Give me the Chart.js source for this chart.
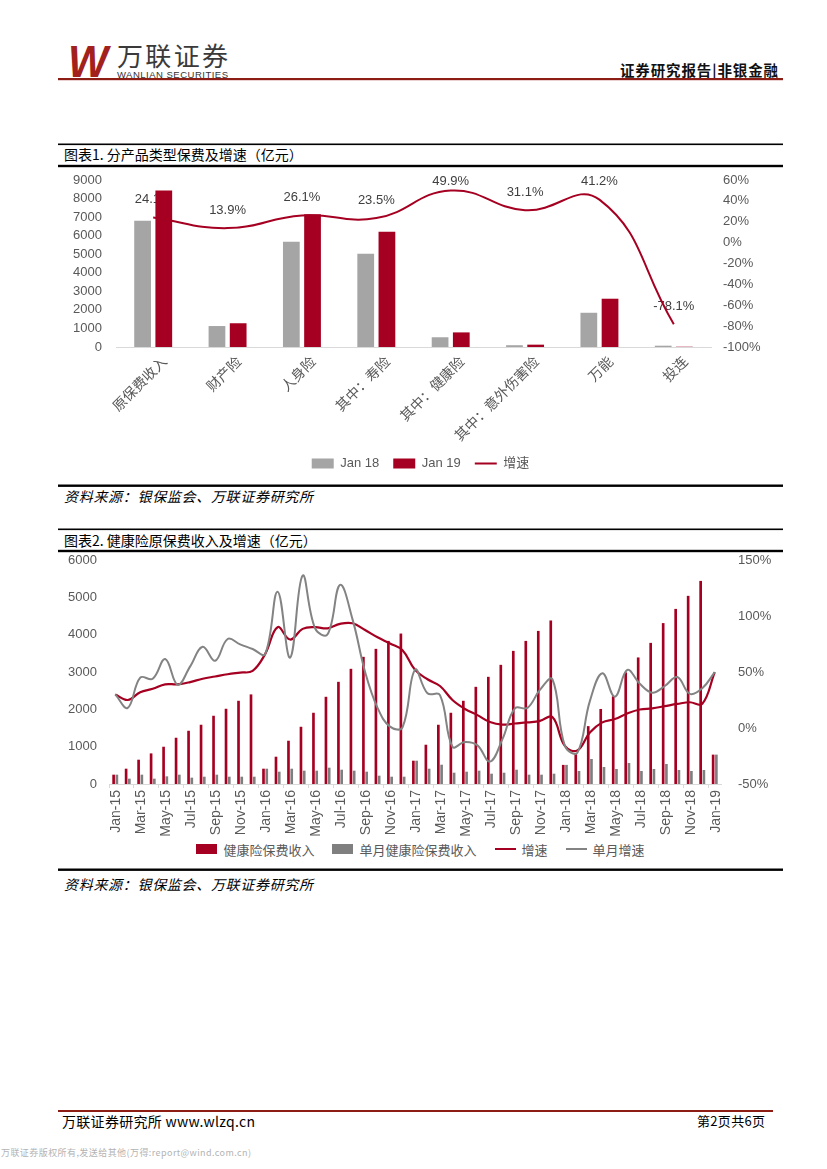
<!DOCTYPE html>
<html><head><meta charset="utf-8">
<script src="https://cdn.jsdelivr.net/npm/chart.js@4.4.1/dist/chart.umd.min.js"></script>
<style>
html,body{margin:0;padding:0;background:#fff;}
#page{position:relative;width:827px;height:1169px;overflow:hidden;background:#fff;}
#deco{position:absolute;left:0;top:0;}
.cwrap{position:absolute;}
#lg2{position:absolute;left:58px;width:725px;top:841px;height:16px;display:flex;justify-content:center;align-items:center;gap:18px;
 font-family:"Liberation Sans","Noto Sans CJK SC",sans-serif;font-size:13px;color:#595959;white-space:nowrap;}
#lg2 .it{display:flex;align-items:center;}
#lg2 .bx{display:inline-block;width:21px;margin-right:6px;}
</style></head><body>
<div id="page">
<svg id="deco" width="827" height="1169" xmlns="http://www.w3.org/2000/svg">
 <text x="68" y="77" font-family="Liberation Sans" font-weight="bold" font-style="italic" font-size="44" fill="#a3211c" textLength="40" lengthAdjust="spacingAndGlyphs">W</text>
 <text x="117" y="66" font-family="Noto Sans CJK SC" font-size="26" fill="#3a3a3a" textLength="111">万联证券</text>
 <text x="117" y="77.5" font-family="Liberation Sans" font-size="9.5" fill="#333" textLength="111">WANLIAN SECURITIES</text>
 <text x="620" y="76" font-family="Noto Sans CJK SC" font-size="14.5" font-weight="bold" fill="#111" textLength="158">证券研究报告|非银金融</text>
 <rect x="58" y="78" width="725" height="2.2" fill="#8b1d15"/>

 <rect x="58" y="143.5" width="725" height="1.6" fill="#000"/>
 <text x="64" y="160" font-family="Noto Sans CJK SC" font-size="14" fill="#000">图表1. 分产品类型保费及增速（亿元）</text>
 <rect x="58" y="164.8" width="725" height="2.4" fill="#000"/>
 <rect x="58" y="484.5" width="725" height="2.4" fill="#000"/>
 <text x="64" y="502" font-family="Noto Sans CJK SC" font-size="14" font-style="italic" fill="#000" textLength="249">资料来源：银保监会、万联证券研究所</text>

 <rect x="58" y="528.5" width="725" height="1.6" fill="#000"/>
 <text x="64" y="546" font-family="Noto Sans CJK SC" font-size="14" fill="#000">图表2. 健康险原保费收入及增速（亿元）</text>
 <rect x="58" y="549.8" width="725" height="2.4" fill="#000"/>
 <rect x="58" y="868.5" width="725" height="2.4" fill="#000"/>
 <text x="64" y="890" font-family="Noto Sans CJK SC" font-size="14" font-style="italic" fill="#000" textLength="249">资料来源：银保监会、万联证券研究所</text>

 <rect x="58" y="1110" width="715" height="2" fill="#8b1d15"/>
 <text x="62" y="1127" font-family="Noto Sans CJK SC" font-size="14" fill="#000" textLength="193">万联证券研究所 www.wlzq.cn</text>
 <text x="697" y="1126" font-family="Noto Sans CJK SC" font-size="13" fill="#000" textLength="68">第2页共6页</text>
 <text x="1" y="1156" font-family="Noto Sans CJK SC" font-size="9" fill="#b3b3b3" textLength="250">万联证券版权所有,发送给其他(万得:report@wind.com.cn)</text>
</svg>
<div class="cwrap" style="left:58px;top:168px;width:725px;height:312px;"><canvas id="c1"></canvas></div>
<div class="cwrap" style="left:58px;top:552px;width:725px;height:286px;"><canvas id="c2"></canvas></div>
<div id="lg2"></div>
</div>
<script>
// ---------- Chart 1 data ----------
const cats1 = ['原保费收入','财产险','人身险','其中：寿险','其中：健康险','其中：意外伤害险','万能','投连'];
const jan18 = [6800, 1130, 5670, 5030, 525, 96, 1845, 70];
const jan19 = [8437, 1280, 7150, 6212, 787, 126, 2602, 15];
const growth1 = [24.1, 13.9, 26.1, 23.5, 49.9, 31.1, 41.2, -78.1];

// ---------- Chart 2 data ----------
const months = ['Jan-15','Feb-15','Mar-15','Apr-15','May-15','Jun-15','Jul-15','Aug-15','Sep-15','Oct-15','Nov-15','Dec-15',
 'Jan-16','Feb-16','Mar-16','Apr-16','May-16','Jun-16','Jul-16','Aug-16','Sep-16','Oct-16','Nov-16','Dec-16',
 'Jan-17','Feb-17','Mar-17','Apr-17','May-17','Jun-17','Jul-17','Aug-17','Sep-17','Oct-17','Nov-17','Dec-17',
 'Jan-18','Feb-18','Mar-18','Apr-18','May-18','Jun-18','Jul-18','Aug-18','Sep-18','Oct-18','Nov-18','Dec-18',
 'Jan-19'];
const cumPrem = [250,410,651,820,998,1239,1426,1587,1828,2015,2229,2400,
 410,731,1159,1533,1908,2336,2737,3085,3406,3620,3833,4030,
 624,1052,1587,1908,2229,2603,2871,3192,3566,3833,4101,4380,
 512,800,1550,2010,2350,2990,3390,3780,4310,4690,5040,5440,
 787];
const monthPrem = [250,143,250,143,205,250,170,196,250,196,196,196,
 410,330,410,357,357,437,383,357,330,223,196,196,
 624,410,517,303,330,357,276,303,383,250,250,276,
 512,348,670,455,402,563,348,402,536,375,348,375,
 787];
const cumGrowth = [30,25,32,35,39,39,41,44,46,48,49.5,51,
 66,90,79,88.5,90,89,93,93.5,87.5,81,75.5,69.5,
 52,43.5,37.5,25,17,11.5,5.3,3,4,5,6.3,9.8,
 -16,-20,-4,5,8,13,16.5,17.5,19.5,21.5,23,21.5,
 49.9];
const monthGrowth = [30,18,45,44,61.6,38.5,55,72.5,60,79.5,74.7,70.5,
 66,121.7,62.8,136,89,83.6,127.7,97,50.3,18,1.2,0.6,
 52,31,29.4,-16.7,-12.5,-15.5,-30,-10,17.6,18,34,43.5,
 -16,-22,24,48.8,28,51.8,39.5,31.5,37.5,45.5,30.5,35.4,
 49.9];

const RED = '#a50021', GRAY1 = '#a5a5a5', GRAY2 = '#7f7f7f', LGRAY = '#838383';
const FONT = '"Liberation Sans","Noto Sans CJK SC",sans-serif';
Chart.defaults.font.family = FONT;
Chart.defaults.color = '#595959';

function legendGen(chart){
  const items = Chart.defaults.plugins.legend.labels.generateLabels(chart);
  items.forEach(it=>{
    const ds = chart.data.datasets[it.datasetIndex];
    if (ds.type === 'line'){ it.pointStyle='line'; it.strokeStyle=ds.borderColor; it.lineWidth=2; }
    else { it.pointStyle='rect'; it.fillStyle=ds.backgroundColor; it.strokeStyle=ds.backgroundColor; it.lineWidth=0; }
  });
  return items.sort((a,b)=>a.datasetIndex-b.datasetIndex);
}
function fixW(w){ return function(s){ s.width = w; s.paddingTop = 0; s.paddingBottom = 0; }; }

const pctLabels = {
  id:'pctLabels',
  beforeDatasetsDraw(chart){
    const meta = chart.getDatasetMeta(2);
    const ctx = chart.ctx; ctx.save();
    ctx.font = '13px ' + FONT;
    ctx.fillStyle = '#404040'; ctx.textAlign='center'; ctx.textBaseline='middle';
    meta.data.forEach((pt,i)=>{
      const y = Math.max(pt.y - 18, chart.chartArea.top + 1);
      ctx.fillText(growth1[i].toFixed(1)+'%', pt.x, y);
    });
    ctx.restore();
  }
};

new Chart(document.getElementById('c1'), {
  type:'bar',
  data:{ labels: cats1, datasets:[
    {label:'Jan 18', data: jan18, backgroundColor: GRAY1, yAxisID:'y', order:1, categoryPercentage:0.57, barPercentage:0.79},
    {label:'Jan 19', data: jan19, backgroundColor: RED, yAxisID:'y', order:1, categoryPercentage:0.57, barPercentage:0.79},
    {type:'line', label:'增速', data: growth1, borderColor: RED, backgroundColor: RED, borderWidth:2, pointRadius:0, tension:0.45, yAxisID:'y1', order:0, fill:false}
  ]},
  options:{
    responsive:true, maintainAspectRatio:false, animation:false,
    layout:{autoPadding:false, padding:{top:12,left:0,right:0,bottom:0}},
    plugins:{
      legend:{position:'bottom', labels:{usePointStyle:true, pointStyleWidth:22, boxHeight:10, padding:14, color:'#595959', font:{size:13}, generateLabels: legendGen}},
      tooltip:{enabled:false}
    },
    scales:{
      x:{grid:{display:false, drawTicks:false}, border:{display:true, color:'#d9d9d9'},
         ticks:{color:'#595959', font:{size:14}, maxRotation:45, minRotation:45, autoSkip:false, labelOffset:12, padding:7},
         afterFit(s){ s.height = 96; }},
      y:{position:'left', min:0, max:9000, ticks:{stepSize:1000, autoSkip:false, color:'#595959', font:{size:13}, padding:14, callback:v=>String(v)},
         grid:{display:false, drawTicks:false}, border:{display:false}, afterFit: fixW(58)},
      y1:{position:'right', min:-100, max:60, ticks:{stepSize:20, autoSkip:false, color:'#595959', font:{size:13}, padding:12, callback:v=>v+'%'},
         grid:{display:false, drawTicks:false}, border:{display:false}, afterFit: fixW(72)}
    }
  },
  plugins:[pctLabels]
});

const chart2 = new Chart(document.getElementById('c2'), {
  type:'bar',
  data:{ labels: months, datasets:[
    {label:'健康险保费收入', data: cumPrem, backgroundColor: RED, yAxisID:'y', order:2, categoryPercentage:0.52, barPercentage:0.82},
    {label:'单月健康险保费收入', data: monthPrem, backgroundColor: GRAY2, yAxisID:'y', order:2, categoryPercentage:0.52, barPercentage:0.82},
    {type:'line', label:'增速', data: cumGrowth, borderColor: RED, backgroundColor: RED, borderWidth:2.2, pointRadius:0, tension:0.4, yAxisID:'y1', order:0, fill:false},
    {type:'line', label:'单月增速', data: monthGrowth, borderColor: LGRAY, backgroundColor: LGRAY, borderWidth:2, pointRadius:0, tension:0.4, yAxisID:'y1', order:-1, fill:false}
  ]},
  options:{
    responsive:true, maintainAspectRatio:false, animation:false,
    layout:{autoPadding:false, padding:{top:8,left:0,right:0,bottom:0}},
    plugins:{
      legend:{display:false, labels:{generateLabels: legendGen}},
      tooltip:{enabled:false}
    },
    scales:{
      x:{grid:{display:true, drawOnChartArea:false, drawTicks:true, tickLength:4, color:c=> (c.index % 2 === 0 ? '#d9d9d9' : 'rgba(0,0,0,0)')},
         border:{display:true, color:'#d9d9d9'},
         ticks:{color:'#595959', font:{size:14}, maxRotation:90, minRotation:90, autoSkip:false, padding:2, labelOffset:1,
                callback:function(v,i){ return i % 2 === 0 ? months[i] : ''; }},
         afterFit(s){ s.height = 54; }},
      y:{position:'left', min:0, max:6000, ticks:{stepSize:1000, autoSkip:false, color:'#595959', font:{size:13}, padding:12, callback:v=>String(v)},
         grid:{display:false, drawTicks:false}, border:{display:false}, afterFit: fixW(51)},
      y1:{position:'right', min:-50, max:150, ticks:{stepSize:50, autoSkip:false, color:'#595959', font:{size:13}, padding:17, callback:v=>v+'%'},
         grid:{display:false, drawTicks:false}, border:{display:false}, afterFit: fixW(62)}
    }
  }
});

// HTML legend for chart 2, built from the chart's own legend items
(function(){
  const box = document.getElementById('lg2');
  legendGen(chart2).forEach(it=>{
    const ds = chart2.data.datasets[it.datasetIndex];
    const d = document.createElement('div'); d.className='it';
    const b = document.createElement('span'); b.className='bx';
    if (ds.type === 'line'){ b.style.height='2px'; b.style.background=ds.borderColor; }
    else { b.style.height='10px'; b.style.background=ds.backgroundColor; }
    const t = document.createElement('span'); t.textContent = it.text;
    d.appendChild(b); d.appendChild(t); box.appendChild(d);
  });
})();
</script>
</body></html>
